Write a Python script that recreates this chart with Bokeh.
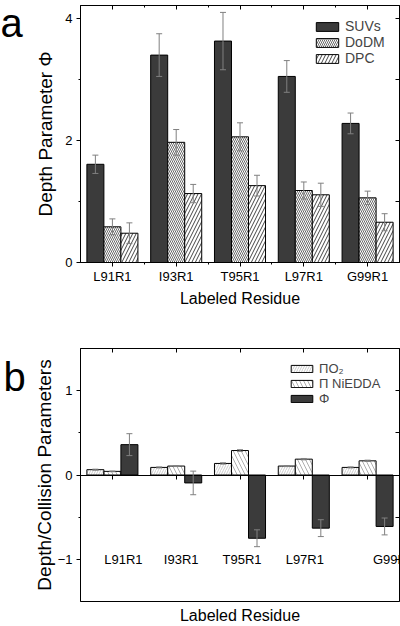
import numpy as np
from bokeh.plotting import figure
from bokeh.models import (ColumnDataSource, Range1d, FixedTicker, LinearAxis, Whisker,
                          TeeHead, Legend, LegendItem)
from bokeh.layouts import column, row
from bokeh.embed import file_html
from bokeh.resources import INLINE

# ---------------- data ----------------
residues = ["L91R1", "I93R1", "T95R1", "L97R1", "G99R1"]

# panel a : depth parameter Phi
suv_phi = [1.61, 3.40, 3.63, 3.05, 2.28]
suv_err = [0.15, 0.35, 0.47, 0.26, 0.17]
dodm_phi = [0.585, 1.97, 2.06, 1.18, 1.06]
dodm_err = [0.13, 0.21, 0.23, 0.14, 0.11]
dpc_phi = [0.48, 1.13, 1.26, 1.11, 0.66]
dpc_err = [0.17, 0.15, 0.17, 0.19, 0.14]

# panel b : collision parameters and Phi
pi_o2 = [0.063, 0.090, 0.137, 0.106, 0.090]
pi_o2_err = [0.006, 0.006, 0.008, 0.006, 0.006]
pi_ni = [0.043, 0.106, 0.290, 0.188, 0.168]
pi_ni_err = [0.004, 0.006, 0.010, 0.008, 0.008]
phi_b = [0.36, -0.094, -0.75, -0.63, -0.61]
phi_b_err = [0.13, 0.14, 0.10, 0.10, 0.10]

y_ticks_a = [0, 2, 4]
y_minor_a = [1, 3]
y_ticks_b = [-1, 0, 1]
y_minor_b = [-0.5, 0.5]

panel_letters = ["a", "b"]

# ---------------- style ----------------
FONT = "Liberation Sans"
DARK = "#3b3b3b"
ERRC = "#808080"
BW = 0.2667
label_dx_b = [11, 5, 2, 1, 26]
LETTER_W = 26

pos = np.arange(1, len(residues) + 1, dtype=float)
between = list((pos[:-1] + pos[1:]) / 2)
overrides = {int(p): r for p, r in zip(pos, residues)}


def arr(a):
    return np.asarray(a, dtype=float)


def letter_figure(letter, height, baseline_px, left_px):
    # a small pixel-scaled figure holding the panel letter
    f = figure(width=LETTER_W, height=height, output_backend="svg", toolbar_location=None,
               x_range=Range1d(0, LETTER_W), y_range=Range1d(0, height),
               x_axis_type=None, y_axis_type=None, min_border=0)
    f.outline_line_color = None
    f.background_fill_color = "white"
    f.border_fill_color = "white"
    f.text(x=[left_px], y=[height - baseline_px], text=[letter],
           text_baseline="alphabetic", text_align="left",
           text_font={"value": FONT}, text_font_size="40px", text_color="black")
    return f


def add_frame_axes(p, yt, ym, ylabel, xlabel, bottom_labels, top_minor, ylab_standoff):
    left = LinearAxis(ticker=FixedTicker(ticks=yt, minor_ticks=ym), axis_label=ylabel)
    left.major_tick_out = 4
    left.major_tick_in = 0
    left.minor_tick_out = 2
    left.minor_tick_in = 0
    left.major_label_text_font = FONT
    left.major_label_text_font_size = "13px"
    left.major_label_text_color = "black"
    left.major_label_standoff = 4
    left.axis_label_text_font = FONT
    left.axis_label_text_font_size = "19px"
    left.axis_label_text_font_style = "normal"
    left.axis_label_text_color = "black"
    left.axis_label_standoff = ylab_standoff
    p.add_layout(left, "left")

    right = LinearAxis(ticker=FixedTicker(ticks=sorted(list(yt) + list(ym))))
    right.major_tick_in = 4
    right.major_tick_out = 0
    right.minor_tick_line_color = None
    right.major_label_text_font_size = "0px"
    right.major_label_standoff = 0
    p.add_layout(right, "right")

    top = LinearAxis(ticker=FixedTicker(ticks=list(pos), minor_ticks=between if top_minor else []))
    top.major_tick_in = 4
    top.major_tick_out = 0
    top.minor_tick_in = 2
    top.minor_tick_out = 0
    top.major_label_text_font_size = "0px"
    top.major_label_standoff = 0
    p.add_layout(top, "above")

    if bottom_labels:
        bot = LinearAxis(ticker=FixedTicker(ticks=list(pos), minor_ticks=between),
                         major_label_overrides=overrides, axis_label=xlabel)
        bot.major_tick_out = 4
        bot.major_tick_in = 0
        bot.minor_tick_out = 2
        bot.minor_tick_in = 0
        bot.major_label_text_font = FONT
        bot.major_label_text_font_size = "13px"
        bot.major_label_text_color = "black"
        bot.major_label_standoff = 2
        bot.axis_label_standoff = 3
    else:
        bot = LinearAxis(ticker=FixedTicker(ticks=[]), axis_label=xlabel)
        bot.axis_line_color = None
        bot.major_tick_out = 0
        bot.major_tick_in = 0
        bot.major_label_text_font_size = "0px"
        bot.major_label_standoff = 0
        bot.axis_label_standoff = 5
    bot.axis_label_text_font = FONT
    bot.axis_label_text_font_size = "16px"
    bot.axis_label_text_font_style = "normal"
    bot.axis_label_text_color = "black"
    p.add_layout(bot, "below")


def whisk(p, src, base, val, err):
    src.data[val + "_hi"] = arr(src.data[val]) + arr(src.data[err])
    src.data[val + "_lo"] = arr(src.data[val]) - arr(src.data[err])
    w = Whisker(source=src, base=base, upper=val + "_hi", lower=val + "_lo",
                line_color=ERRC, line_width=1, level="overlay",
                upper_head=TeeHead(size=6, line_color=ERRC, line_width=1),
                lower_head=TeeHead(size=6, line_color=ERRC, line_width=1))
    p.add_layout(w)


# ---------------- panel a ----------------
pa = figure(width=400 - LETTER_W, height=330, output_backend="svg", toolbar_location=None,
            x_range=Range1d(0.5, 5.5), y_range=Range1d(0, 4.213),
            x_axis_type=None, y_axis_type=None,
            min_border_left=80 - LETTER_W, min_border_right=1, min_border_top=5,
            min_border_bottom=68)
pa.outline_line_color = "black"
pa.background_fill_color = "white"

src_a = ColumnDataSource(dict(x1=pos - BW, x2=pos, x3=pos + BW,
                              suv=suv_phi, suv_e=suv_err,
                              dodm=dodm_phi, dodm_e=dodm_err,
                              dpc=dpc_phi, dpc_e=dpc_err))
r_suv = pa.vbar(x="x1", top="suv", width=BW, source=src_a, fill_color=DARK,
                line_color="black", line_width=1)
r_dodm = pa.vbar(x="x2", top="dodm", width=BW, source=src_a, fill_color="white",
                 line_color="black", line_width=1, hatch_pattern="\\",
                 hatch_scale=4, hatch_color="#444444", hatch_weight=0.8)
r_dpc = pa.vbar(x="x3", top="dpc", width=BW, source=src_a, fill_color="white",
                line_color="black", line_width=1, hatch_pattern="/",
                hatch_scale=7, hatch_color="#444444", hatch_weight=1)
whisk(pa, src_a, "x1", "suv", "suv_e")
whisk(pa, src_a, "x2", "dodm", "dodm_e")
whisk(pa, src_a, "x3", "dpc", "dpc_e")

add_frame_axes(pa, y_ticks_a, y_minor_a, "Depth Parameter Φ", "Labeled Residue", True, True, 6)

leg_a = Legend(items=[LegendItem(label="SUVs", renderers=[r_suv]),
                      LegendItem(label="DoDM", renderers=[r_dodm]),
                      LegendItem(label="DPC", renderers=[r_dpc])],
               location=(233, 196), padding=0, spacing=0, margin=0,
               glyph_width=28, glyph_height=11, label_standoff=4,
               label_text_font=FONT, label_text_font_size="14px",
               background_fill_alpha=0, border_line_color=None)
pa.add_layout(leg_a)

# ---------------- panel b ----------------
pb = figure(width=400 - LETTER_W, height=296, output_backend="svg", toolbar_location=None,
            x_range=Range1d(0.5, 5.5), y_range=Range1d(-1.5, 1.5),
            x_axis_type=None, y_axis_type=None,
            min_border_left=80 - LETTER_W, min_border_right=1, min_border_top=18,
            min_border_bottom=23)
pb.outline_line_color = "black"
pb.background_fill_color = "white"

src_b = ColumnDataSource(dict(x1=pos - BW, x2=pos, x3=pos + BW,
                              o2=pi_o2, o2_e=pi_o2_err,
                              ni=pi_ni, ni_e=pi_ni_err,
                              phi=phi_b, phi_e=phi_b_err,
                              name=residues, dx=label_dx_b))
r_o2 = pb.vbar(x="x1", top="o2", width=BW, source=src_b, fill_color="white",
               line_color="black", line_width=1, hatch_pattern="/",
               hatch_scale=5, hatch_color="#ababab", hatch_weight=0.6)
r_ni = pb.vbar(x="x2", top="ni", width=BW, source=src_b, fill_color="white",
               line_color="black", line_width=1, hatch_pattern="\\",
               hatch_scale=8, hatch_color="#9a9a9a", hatch_weight=0.8)
r_phi = pb.vbar(x="x3", top="phi", width=BW, source=src_b, fill_color=DARK,
                line_color="black", line_width=1)
whisk(pb, src_b, "x1", "o2", "o2_e")
whisk(pb, src_b, "x2", "ni", "ni_e")
whisk(pb, src_b, "x3", "phi", "phi_e")

add_frame_axes(pb, y_ticks_b, y_minor_b, "Depth/Collision Parameters", "Labeled Residue", False, False, 0)

zero_axis = LinearAxis(fixed_location=0, ticker=FixedTicker(ticks=list(pos)))
zero_axis.major_tick_out = 4
zero_axis.major_tick_in = 0
zero_axis.minor_tick_line_color = None
zero_axis.major_label_text_font_size = "0px"
zero_axis.axis_line_color = "black"
pb.add_layout(zero_axis, "below")

pb.text(x="x2", y=min(y_ticks_b), text="name", source=src_b, x_offset="dx",
        text_align="center", text_baseline="middle", text_font_size="13px",
        text_font={"value": FONT}, text_color="black")

leg_b = Legend(items=[LegendItem(label="ΠO₂", renderers=[r_o2]),
                      LegendItem(label="Π NiEDDA", renderers=[r_ni]),
                      LegendItem(label="Φ", renderers=[r_phi])],
               location=(208, 195), padding=0, spacing=0, margin=0,
               glyph_width=27, glyph_height=9, label_standoff=4,
               label_text_font=FONT, label_text_font_size="13px",
               background_fill_alpha=0, border_line_color=None)
pb.add_layout(leg_b)

# ---------------- panel letters ----------------
la = letter_figure(panel_letters[0], 330, 23, 0)
lb = letter_figure(panel_letters[1], 296, 33, 3)

layout = column(row(la, pa, spacing=0), row(lb, pb, spacing=0), spacing=0)
open("out.html", "w").write(file_html(layout, INLINE))
